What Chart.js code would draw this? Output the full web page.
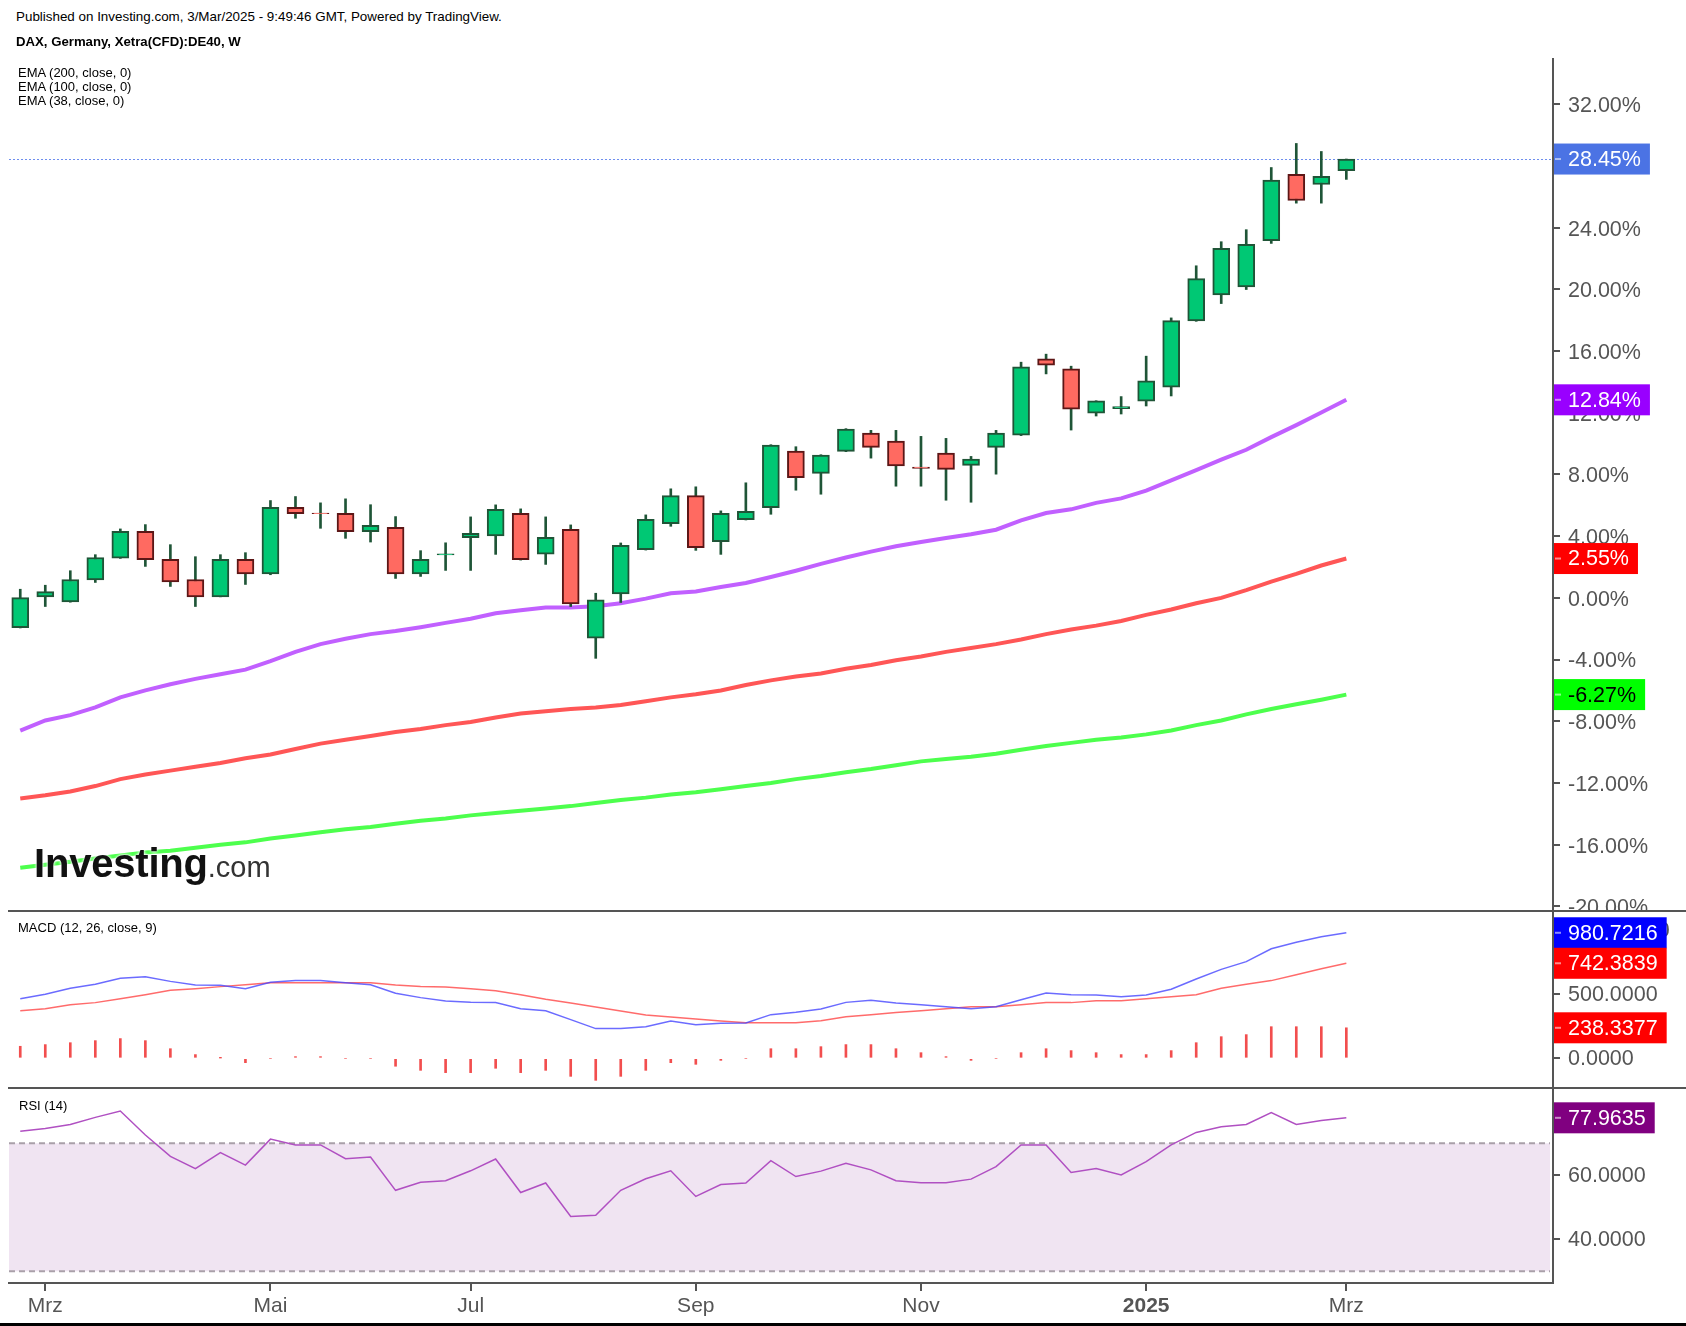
<!DOCTYPE html>
<html>
<head>
<meta charset="utf-8">
<script src="https://cdn.jsdelivr.net/npm/chart.js@4.4.1/dist/chart.umd.min.js"></script>
<style>
  html, body { margin: 0; padding: 0; background: #fff; }
  body { width: 1686px; height: 1326px; position: relative; overflow: hidden; font-family: 'Liberation Sans', Arial, sans-serif; }
  canvas { position: absolute; left: 0; z-index: 1; }
  .t { position: absolute; z-index: 3; color: #000; white-space: nowrap; line-height: 1; }
  .sep { position: absolute; z-index: 2; left: 8px; width: 1678px; height: 2px; background: #555; }
  .logo { position: absolute; z-index: 3; left: 34px; top: 843px; white-space: nowrap; line-height: 40px;
          text-shadow: 0 0 3px #fff, 0 0 3px #fff; }
</style>
</head>
<body>
<canvas id="main" width="1686" height="853" style="top:58px"></canvas>
<canvas id="macd" width="1686" height="177" style="top:911px"></canvas>
<canvas id="rsi" width="1686" height="238" style="top:1088px"></canvas>
<div class="sep" style="top:910px"></div>
<div class="sep" style="top:1087px"></div>

<div class="t" style="left:16px;top:10px;font-size:13.4px;">Published on Investing.com, 3/Mar/2025 - 9:49:46 GMT, Powered by TradingView.</div>
<div class="t" style="left:16px;top:35px;font-size:13.2px;font-weight:bold;">DAX, Germany, Xetra(CFD):DE40, W</div>
<div class="t" style="left:18px;top:66px;font-size:13px;">EMA (200, close, 0)</div>
<div class="t" style="left:18px;top:80px;font-size:13px;">EMA (100, close, 0)</div>
<div class="t" style="left:18px;top:94px;font-size:13px;">EMA (38, close, 0)</div>
<div class="logo"><span style="font-size:40px;font-weight:bold;color:#111;letter-spacing:-0.2px;">Investing</span><span style="font-size:29px;color:#333;">.com</span></div>
<div class="t" style="left:18px;top:921px;font-size:13px;">MACD (12, 26, close, 9)</div>
<div class="t" style="left:19px;top:1099px;font-size:13px;">RSI (14)</div>

<script>
const FONT = "'Liberation Sans', Arial, sans-serif";

const weeks = ['2024-02-26','2024-03-04','2024-03-11','2024-03-18','2024-03-25','2024-04-01','2024-04-08','2024-04-15','2024-04-22','2024-04-29',
  '2024-05-06','2024-05-13','2024-05-20','2024-05-27','2024-06-03','2024-06-10','2024-06-17','2024-06-24','2024-07-01','2024-07-08',
  '2024-07-15','2024-07-22','2024-07-29','2024-08-05','2024-08-12','2024-08-19','2024-08-26','2024-09-02','2024-09-09','2024-09-16',
  '2024-09-23','2024-09-30','2024-10-07','2024-10-14','2024-10-21','2024-10-28','2024-11-04','2024-11-11','2024-11-18','2024-11-25',
  '2024-12-02','2024-12-09','2024-12-16','2024-12-23','2024-12-30','2025-01-06','2025-01-13','2025-01-20','2025-01-27','2025-02-03',
  '2025-02-10','2025-02-17','2025-02-24','2025-03-03'];

// weekly candles, % change
const openV = [-1.93, 0.0, -0.26, 1.17, 2.58, 4.31, 2.5, 1.19, 0.0, 2.5,
  1.56, 5.87, 5.5, 5.48, 4.29, 4.57, 1.56, 2.78, 3.90, 4.01,
  5.48, 2.84, 4.44, -2.62, 0.26, 3.12, 4.81, 6.63, 3.64, 5.07,
  5.85, 9.52, 8.07, 9.5, 10.69, 10.17, 8.48, 9.39, 8.59, 9.76,
  10.54, 15.5, 14.85, 11.97, 12.27, 12.75, 13.66, 17.95, 19.64, 20.16,
  23.15, 27.46, 26.8, 27.7];
const highV = [0.56, 0.82, 1.76, 2.80, 4.47, 4.75, 3.45, 2.67, 2.80, 2.93,
  6.31, 6.57, 6.16, 6.42, 6.04, 5.27, 3.06, 3.57, 5.25, 6.03,
  5.77, 5.25, 4.73, 0.30, 3.56, 5.38, 7.07, 7.2, 5.64, 7.46,
  9.93, 9.8, 9.28, 10.97, 10.86, 10.86, 10.47, 10.34, 9.17, 10.86,
  15.28, 15.8, 15.02, 12.78, 13.05, 15.67, 18.15, 21.53, 23.09, 23.87,
  27.9, 29.46, 28.94, 28.45];
const lowV = [-1.95, -0.56, -0.28, 1.0, 2.56, 2.04, 0.74, -0.56, 0.0, 0.87,
  1.5, 5.16, 4.51, 3.86, 3.62, 1.26, 1.39, 1.78, 1.78, 2.82,
  2.45, 2.17, -0.56, -3.92, -0.30, 3.1, 4.64, 3.08, 2.82, 5.05,
  5.42, 6.98, 6.72, 9.48, 9.06, 7.24, 7.24, 6.33, 6.2, 8.02,
  10.52, 14.52, 10.88, 11.79, 11.92, 12.44, 13.09, 17.93, 19.08, 19.99,
  22.98, 25.59, 25.59, 27.13];
const closeV = [0.02, 0.41, 1.19, 2.62, 4.31, 2.47, 1.04, 0.0, 2.5, 1.56,
  5.87, 5.46, 5.46, 4.29, 4.70, 1.56, 2.5, 2.85, 4.18, 5.74,
  2.47, 3.92, -0.39, -0.13, 3.40, 5.09, 6.63, 3.25, 5.48, 5.61,
  9.91, 7.80, 9.26, 10.95, 9.76, 8.56, 8.40, 8.33, 9.0, 10.69,
  14.98, 15.09, 12.23, 12.77, 12.40, 14.07, 17.97, 20.7, 22.66, 22.92,
  27.08, 25.76, 27.33, 28.45];

const ema38 = [-8.6, -7.95, -7.6, -7.1, -6.45, -6.0, -5.6, -5.25, -4.95, -4.65,
  -4.1, -3.5, -3.0, -2.65, -2.35, -2.15, -1.9, -1.62, -1.35, -1.0,
  -0.8, -0.63, -0.62, -0.55, -0.35, -0.05, 0.3, 0.42, 0.7, 0.96,
  1.35, 1.76, 2.2, 2.62, 3.0, 3.35, 3.62, 3.88, 4.12, 4.42,
  5.02, 5.5, 5.74, 6.16, 6.45, 6.95, 7.62, 8.28, 8.96, 9.6,
  10.42, 11.2, 12.02, 12.84];
const ema100 = [-13.0, -12.8, -12.55, -12.2, -11.75, -11.45, -11.2, -10.95, -10.7, -10.4,
  -10.15, -9.8, -9.45, -9.2, -8.95, -8.7, -8.5, -8.25, -8.05, -7.75,
  -7.5, -7.35, -7.2, -7.1, -6.95, -6.7, -6.45, -6.25, -6.0, -5.65,
  -5.35, -5.1, -4.9, -4.6, -4.35, -4.05, -3.8, -3.5, -3.25, -3.0,
  -2.7, -2.35, -2.05, -1.8, -1.5, -1.1, -0.75, -0.35, 0.0, 0.5,
  1.05, 1.55, 2.1, 2.55];
const ema200 = [-17.5, -17.3, -17.1, -16.9, -16.7, -16.5, -16.4, -16.2, -16.0, -15.85,
  -15.6, -15.4, -15.2, -15.0, -14.85, -14.65, -14.45, -14.3, -14.1, -13.95,
  -13.8, -13.65, -13.5, -13.3, -13.1, -12.95, -12.75, -12.6, -12.4, -12.2,
  -12.0, -11.75, -11.55, -11.3, -11.1, -10.85, -10.6, -10.45, -10.3, -10.1,
  -9.85, -9.6, -9.4, -9.2, -9.05, -8.85, -8.6, -8.25, -7.95, -7.55,
  -7.2, -6.9, -6.6, -6.27];

const macdLine = [466, 500, 547, 578, 625, 638, 601, 573, 570, 544,
  594, 607, 607, 591, 575, 508, 474, 448, 437, 435,
  388, 372, 302, 232, 232, 247, 291, 263, 273, 276,
  341, 359, 385, 437, 453, 432, 419, 403, 388, 403,
  458, 510, 497, 495, 481, 495, 539, 620, 695, 755,
  856, 906, 950, 980.7216];
const signalLine = [372, 388, 419, 435, 466, 497, 531, 544, 560, 575,
  591, 591, 591, 591, 591, 573, 560, 557, 544, 528,
  497, 461, 432, 401, 370, 338, 323, 307, 291, 278,
  278, 278, 294, 325, 341, 357, 372, 388, 403, 403,
  419, 435, 435, 450, 450, 466, 481, 497, 547, 578,
  607, 653, 700, 742.3839];
const macdHist = [94, 107, 122, 138, 154, 138, 75, 29, 2, -34,
  0, 13, 13, 0, 0, -62, -94, -112, -112, -78,
  -112, -94, -141, -172, -141, -94, -34, -47, -16, 0,
  75, 75, 91, 107, 107, 75, 44, 13, -16, 0,
  44, 75, 60, 44, 29, 29, 60, 122, 169, 185,
  247, 247, 247, 238.3377];

const rsi = [73.8, 74.6, 75.9, 78.1, 80.1, 72.6, 65.9, 62.1, 67.1, 63.2,
  71.3, 69.5, 69.5, 65.2, 65.7, 55.3, 57.8, 58.3, 61.4, 65.1,
  54.6, 57.6, 47.1, 47.5, 55.3, 58.9, 61.4, 53.4, 57.1, 57.6,
  64.6, 59.6, 61.3, 63.75, 61.7, 58.3, 57.7, 57.7, 58.8, 62.7,
  69.5, 69.5, 60.9, 62.1, 60.1, 64.25, 69.5, 73.4, 75.2, 75.9,
  79.6, 75.9, 77.1, 77.9635];

const priceTicks = [-20, -16, -12, -8, -4, 0, 4, 8, 12, 16, 20, 24, 28, 32];
const macdTicks = [0, 500, 1000];
const rsiTicks = [40, 60];
const monthTicks = [1, 10, 18, 27, 36, 45, 53];
const monthLabels = ['Mrz', 'Mai', 'Jul', 'Sep', 'Nov', '2025', 'Mrz'];

const last = weeks.length - 1;
const xy = arr => arr.map((v, i) => ({ x: i, y: v }));
const isUp = i => closeV[i] >= openV[i];

const xHidden = { type: 'linear', min: -0.45, max: 61.26, display: false, offset: false };

function yAxis(min, max, ticks, fmt, shift) {
  return {
    position: 'right', min: min, max: max,
    afterBuildTicks: s => { s.ticks = ticks.map(v => ({ value: v })); },
    afterFit: s => { s.width = 133; s.paddingTop = 0; s.paddingBottom = 0; },
    border: { display: true, color: '#555', width: 2 },
    grid: { drawOnChartArea: false, drawTicks: true, tickLength: 7, tickColor: '#555', tickWidth: 2, lineWidth: 2 },
    ticks: { autoSkip: false, color: '#555', padding: 8, labelOffset: shift || 0, font: { family: FONT, size: 21.5 }, callback: fmt }
  };
}

// coloured value boxes on the right axis
function valueLabels(items) {
  return {
    id: 'valueLabels',
    afterDraw(chart) {
      const ctx = chart.ctx, y = chart.scales.y, area = chart.chartArea;
      ctx.save();
      ctx.font = '21.5px ' + FONT;
      ctx.textBaseline = 'middle';
      items.forEach(it => {
        const py = y.getPixelForValue(it.value);
        const w = ctx.measureText(it.text).width + 23;
        ctx.fillStyle = it.bg;
        ctx.fillRect(area.right + 1, py - 15.5, w, 31);
        ctx.fillStyle = 'rgba(255,255,255,0.55)';
        ctx.fillRect(area.right + 2, py - 1, 6, 2);
        ctx.fillStyle = it.fg || '#fff';
        ctx.fillText(it.text, area.right + 15, py + 1);
      });
      ctx.restore();
    }
  };
}

const lastPriceLine = {
  id: 'lastPriceLine',
  beforeDatasetsDraw(chart) {
    const ctx = chart.ctx, area = chart.chartArea;
    const py = Math.round(chart.scales.y.getPixelForValue(closeV[last])) + 0.5;
    ctx.save();
    ctx.strokeStyle = '#6E8EEE';
    ctx.lineWidth = 1;
    ctx.setLineDash([2, 2]);
    ctx.beginPath();
    ctx.moveTo(area.left, py);
    ctx.lineTo(area.right, py);
    ctx.stroke();
    ctx.restore();
  }
};

const rsiBand = {
  id: 'rsiBand',
  beforeDatasetsDraw(chart) {
    const ctx = chart.ctx, area = chart.chartArea, y = chart.scales.y;
    const top = y.getPixelForValue(70), bot = y.getPixelForValue(30);
    ctx.save();
    ctx.fillStyle = '#F0E4F2';
    ctx.fillRect(area.left, top, area.right - area.left - 3, bot - top);
    ctx.strokeStyle = '#A9A0A9';
    ctx.lineWidth = 2;
    ctx.setLineDash([6, 4]);
    [top, bot].forEach(py => {
      ctx.beginPath();
      ctx.moveTo(area.left, py);
      ctx.lineTo(area.right - 3, py);
      ctx.stroke();
    });
    ctx.restore();
  },
  afterDraw(chart) {
    const ctx = chart.ctx;
    ctx.save();
    ctx.fillStyle = '#000';
    ctx.fillRect(0, chart.height - 3, chart.width, 3);
    ctx.restore();
  }
};

const base = {
  responsive: false,
  animation: false,
  devicePixelRatio: 1,
  events: [],
  layout: { padding: { left: 9, right: 0, top: 0, bottom: 0 } },
  plugins: { legend: { display: false }, tooltip: { enabled: false } }
};

new Chart(document.getElementById('main'), {
  type: 'bar',
  data: {
    datasets: [
      {
        type: 'bar', order: 0, grouped: false, barThickness: 17, borderWidth: 2, borderSkipped: false,
        data: weeks.map((w, i) => ({ x: i, y: [openV[i], closeV[i]] })),
        backgroundColor: c => isUp(c.dataIndex) ? '#00C874' : '#FF6A61',
        borderColor: c => isUp(c.dataIndex) ? '#1F5537' : '#5C1616'
      },
      {
        type: 'bar', order: 1, grouped: false, barThickness: 2, borderWidth: 0,
        data: weeks.map((w, i) => ({ x: i, y: [lowV[i], highV[i]] })),
        backgroundColor: '#1F5537'
      },
      { type: 'line', order: 2, data: xy(ema38), borderColor: '#C160FF', borderWidth: 4, pointRadius: 0, tension: 0 },
      { type: 'line', order: 3, data: xy(ema100), borderColor: '#FF5656', borderWidth: 4, pointRadius: 0, tension: 0 },
      { type: 'line', order: 4, data: xy(ema200), borderColor: '#4DFF4D', borderWidth: 4, pointRadius: 0, tension: 0 }
    ]
  },
  options: Object.assign({}, base, {
    scales: {
      x: xHidden,
      y: yAxis(-20.3, 35.0, priceTicks, v => v.toFixed(2) + '%', 2)
    }
  }),
  plugins: [lastPriceLine, valueLabels([
    { value: closeV[last], text: closeV[last].toFixed(2) + '%', bg: '#4B73E4' },
    { value: ema38[last], text: ema38[last].toFixed(2) + '%', bg: '#9900FF' },
    { value: ema100[last], text: ema100[last].toFixed(2) + '%', bg: '#FF0000' },
    { value: ema200[last], text: ema200[last].toFixed(2) + '%', bg: '#00FF00', fg: '#000' }
  ])]
});

new Chart(document.getElementById('macd'), {
  type: 'bar',
  data: {
    datasets: [
      { type: 'line', order: 0, data: xy(macdLine), borderColor: 'rgba(70,70,255,0.8)', borderWidth: 1.5, pointRadius: 0, tension: 0 },
      { type: 'line', order: 1, data: xy(signalLine), borderColor: 'rgba(255,70,70,0.8)', borderWidth: 1.5, pointRadius: 0, tension: 0 },
      { type: 'bar', order: 2, grouped: false, barThickness: 2, borderWidth: 0, data: xy(macdHist), backgroundColor: '#F24E4E' }
    ]
  },
  options: Object.assign({}, base, {
    scales: {
      x: xHidden,
      y: yAxis(-232, 1150.8, macdTicks, v => v.toFixed(4), 1)
    }
  }),
  plugins: [valueLabels([
    { value: macdLine[last], text: macdLine[last].toFixed(4), bg: '#0000FF' },
    { value: signalLine[last], text: signalLine[last].toFixed(4), bg: '#FF0000' },
    { value: macdHist[last], text: macdHist[last].toFixed(4), bg: '#FF0000' }
  ])]
});

new Chart(document.getElementById('rsi'), {
  type: 'line',
  data: {
    datasets: [
      { data: xy(rsi), borderColor: '#B050C2', borderWidth: 1.5, pointRadius: 0, tension: 0 }
    ]
  },
  options: Object.assign({}, base, {
    scales: {
      x: {
        type: 'linear', min: -0.45, max: 61.26, position: 'bottom', offset: false,
        afterBuildTicks: s => { s.ticks = monthTicks.map(v => ({ value: v })); },
        afterFit: s => { s.height = 43; s.paddingLeft = 0; s.paddingRight = 0; },
        border: { display: true, color: '#555', width: 2 },
        grid: { drawOnChartArea: false, drawTicks: true, tickLength: 8, tickColor: '#555', tickWidth: 2, lineWidth: 2 },
        ticks: {
          autoSkip: false, maxRotation: 0, color: '#555', padding: 3,
          font: c => ({ family: FONT, size: 21, weight: monthLabels[c.index] === '2025' ? 'bold' : 'normal' }),
          callback: (v, i) => monthLabels[i]
        }
      },
      y: yAxis(26.34, 87.28, rsiTicks, v => v.toFixed(4), 1)
    }
  }),
  plugins: [rsiBand, valueLabels([
    { value: rsi[last], text: rsi[last].toFixed(4), bg: '#800080' }
  ])]
});
</script>
</body>
</html>
